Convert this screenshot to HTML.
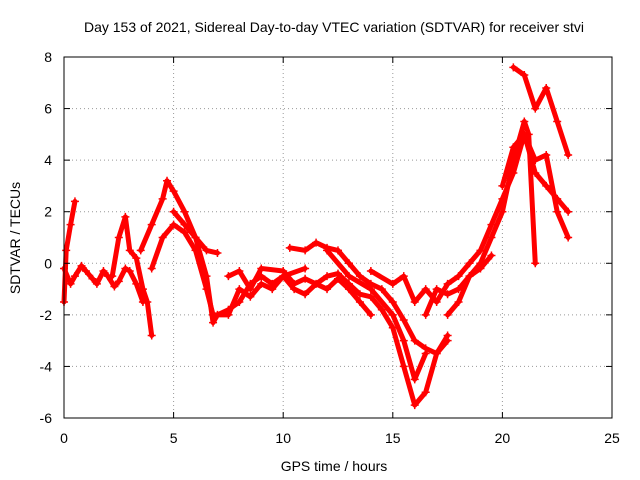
<!DOCTYPE html>
<html><head><meta charset="utf-8"><style>
body{margin:0;background:#fff;}
svg{display:block;font-family:"Liberation Sans",sans-serif;}
</style></head><body>
<svg id="chart" width="640" height="480">
<text x="334" y="32" font-size="14" text-anchor="middle">Day 153 of 2021, Sidereal Day-to-day VTEC variation (SDTVAR) for receiver stvi</text>
<text x="334" y="471" font-size="14" text-anchor="middle">GPS time / hours</text>
<text x="20" y="238" font-size="14" text-anchor="middle" transform="rotate(-90 20 238)">SDTVAR / TECUs</text>
<g id="grid"></g>
<g id="series"></g>
<rect x="64" y="57" width="548" height="361" fill="none" stroke="#000" stroke-width="1"/>
<g id="ticks"></g>
</svg>
<script>
const xTicks=[0,5,10,15,20,25];
const yTicks=[-6,-4,-2,0,2,4,6,8];
const trackA=[[0,-1.5],[0.1,0.5],[0.3,1.5],[0.5,2.4]];
const trackB=[[0,-0.2],[0.3,-0.8],[0.5,-0.5],[0.8,-0.1],[1,-0.3],[1.3,-0.6],[1.5,-0.8],[1.8,-0.3],[2,-0.5],[2.3,-0.9],[2.5,-0.7],[2.8,-0.2],[3,-0.3],[3.3,-0.8],[3.6,-1.5]];
const trackC=[[2.2,-0.5],[2.5,1],[2.8,1.8],[3,0.5],[3.3,0.2],[3.6,-1],[3.8,-1.5],[4,-2.8]];
const trackD=[[3.5,0.5],[4,1.5],[4.5,2.5],[4.7,3.2],[5,2.8],[5.5,2],[6,1],[6.5,-0.5],[6.8,-2.3],[7,-2],[7.5,-1.8],[8,-1.5],[8.5,-0.8],[9,-0.5],[9.5,-0.8],[10,-0.5],[10.5,-1],[11,-1.2],[11.5,-0.8],[12,-0.5],[12.5,-0.4],[13,-0.8],[13.5,-1.2],[14,-1.3],[14.5,-1.8],[15,-2.5],[15.5,-4],[16,-5.5],[16.5,-5],[17,-3.5],[17.5,-2.8]];
const trackE=[[4,-0.2],[4.5,1],[5,1.5],[5.5,1.2],[6,0.5],[6.5,-1],[6.8,-2],[7.5,-2],[8,-1],[8.5,-1.3],[9,-0.8],[9.5,-1],[10,-0.5],[11,-0.2]];
const trackF=[[5,2],[5.5,1.5],[6,1],[6.5,0.5],[7,0.4]];
const trackG=[[7.5,-0.5],[8,-0.3],[8.5,-1],[9,-0.2],[10,-0.3],[10.5,-0.8],[11,-0.6],[12,-1],[12.5,-0.6],[13,-1],[13.5,-1.5],[14,-2]];
const trackH=[[10.3,0.6],[11,0.5],[11.5,0.8],[12,0.6],[12.5,0.5],[13,0],[13.5,-0.5],[14,-0.8],[14.5,-1],[15,-1.5],[15.5,-2.2],[16,-3],[16.5,-3.3],[17,-3.5],[17.5,-3]];
const trackI=[[12,0.5],[13,-0.5],[14,-1],[15,-2],[15.5,-3],[16,-4.5],[16.5,-3.5]];
const trackJ=[[14,-0.3],[15,-0.8],[15.5,-0.5],[16,-1.5],[16.5,-1],[17,-1.5],[17.5,-0.8],[18,-0.5],[18.5,0],[19,0.5],[19.5,1.5],[20,2.5],[20.5,3.5],[21,5],[21.5,3.5],[22,3],[22.5,2.5],[23,2]];
const trackK=[[16.5,-2],[17,-1],[17.5,-1.2],[18,-1],[18.5,-0.5],[19,0],[19.5,1],[20,2],[20.5,4],[21,5.5],[21.2,5],[21.5,0]];
const trackL=[[20.5,7.6],[21,7.3],[21.5,6],[22,6.8],[22.5,5.5],[23,4.2]];
const trackM=[[20,3],[20.5,4.5],[21,5],[21.5,4],[22,4.2],[22.5,2],[23,1]];
const trackN=[[17.5,-2],[18,-1.5],[18.5,-0.5],[19,-0.2],[19.5,0.3]];
const tracks=[trackA,trackB,trackC,trackD,trackE,trackF,trackG,trackH,trackI,trackJ,trackK,trackL,trackM,trackN];

const X0=64,X1=612,Y0=418,Y1=57;
function xs(v){return X0+(v-0)/(25-0)*(X1-X0);}
function ys(v){return Y0-(v+6)/(14)*(Y0-Y1);}
const NS='http://www.w3.org/2000/svg';
const grid=document.getElementById('grid'),ticks=document.getElementById('ticks'),ser=document.getElementById('series');
function mk(tag,attrs,parent){const e=document.createElementNS(NS,tag);for(const k in attrs)e.setAttribute(k,attrs[k]);parent.appendChild(e);return e;}
xTicks.forEach(t=>{
  const x=xs(t);
  if(t>0&&t<25){const g=mk('line',{x1:x,x2:x,y1:Y1,y2:Y0,stroke:'#999','stroke-dasharray':'1,3','stroke-width':1},grid);
  
  }
  mk('line',{x1:x,x2:x,y1:Y0,y2:Y0-6,stroke:'#000'},ticks);
  mk('line',{x1:x,x2:x,y1:Y1,y2:Y1+6,stroke:'#000'},ticks);
  const l=mk('text',{x:x,y:Y0+25,'font-size':14,'text-anchor':'middle'},ticks);
  l.textContent=t;
  
  
});
yTicks.forEach(t=>{
  const y=ys(t);
  if(t>-6&&t<8){const g=mk('line',{x1:X0,x2:X1,y1:y,y2:y,stroke:'#999','stroke-dasharray':'1,3','stroke-width':1},grid);
  
  }
  mk('line',{x1:X0,x2:X0+6,y1:y,y2:y,stroke:'#000'},ticks);
  mk('line',{x1:X1,x2:X1-6,y1:y,y2:y,stroke:'#000'},ticks);
  const l=mk('text',{x:X0-12,y:y+5,'font-size':14,'text-anchor':'end'},ticks);
  l.textContent=t;
  
  
});
tracks.forEach((tr,i)=>{
  const p=mk('polyline',{points:tr.map(d=>xs(d[0])+','+ys(d[1])).join(' '),fill:'none',stroke:'#f00','stroke-width':5,'stroke-linejoin':'round','stroke-linecap':'round'},ser);
  
  
  tr.forEach(d=>{
    const x=xs(d[0]),y=ys(d[1]);
    const m=mk('path',{d:`M${x-4},${y}H${x+4}M${x},${y-4}V${y+4}`,stroke:'#f00','stroke-width':1.5},ser);
    
    
  });
});
</script>
</body></html>
